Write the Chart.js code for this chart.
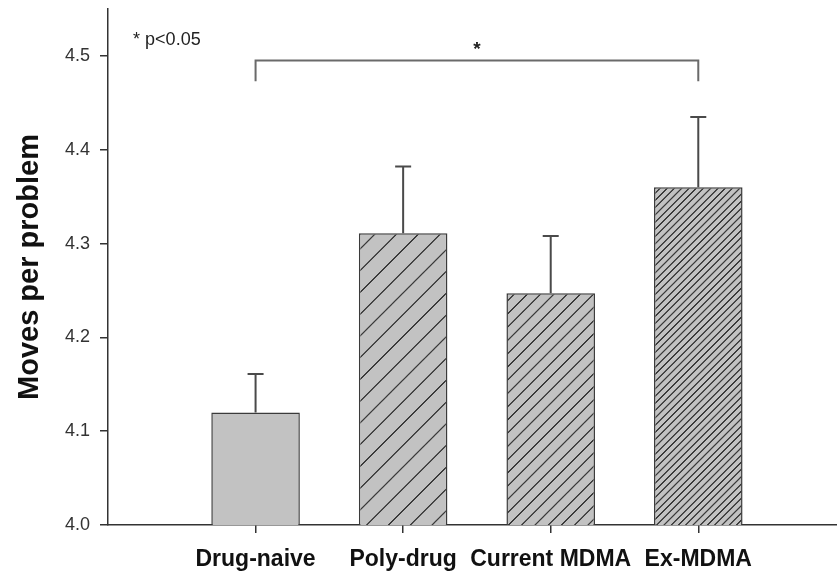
<!DOCTYPE html>
<html>
<head>
<meta charset="utf-8">
<script src="https://cdn.jsdelivr.net/npm/chart.js@4/dist/chart.umd.min.js"></script>
<style>
  body { margin: 0; background: #fff; }
  #wrap { width: 837px; height: 578px; }
</style>
</head>
<body>
<div id="wrap"><canvas id="grafik"></canvas></div>
<script>
const gruplar = ['Drug-naive', 'Poly-drug', 'Current MDMA', 'Ex-MDMA'];
const ortalamalar = [4.12, 4.311, 4.247, 4.36];
const hataUst = [4.161, 4.382, 4.308, 4.435];
const yTikler = [4.0, 4.1, 4.2, 4.3, 4.4, 4.5];
const taramaAraligi = [0, 21.7, 13.3, 7.2];   // 0 = düz dolgu
const parantezSeviye = 4.495;
const parantezAlt = 4.473;
const parantezGruplar = [0, 3];
const notMetni = '* p<0.05';

// çapraz tarama deseni
function taramaDeseni(ctx, s) {
  if (!s) return '#c2c2c2';
  const n = Math.round(s * 4);
  const c = document.createElement('canvas');
  c.width = n; c.height = n;
  const g = c.getContext('2d');
  g.fillStyle = '#c2c2c2';
  g.fillRect(0, 0, n, n);
  g.scale(4, 4);
  g.strokeStyle = '#3a3a3a';
  g.lineWidth = 1.3;
  const w = n / 4;
  [-w, 0, w].forEach(dx => {
    g.beginPath();
    g.moveTo(dx - 1, w + 1);
    g.lineTo(dx + w + 1, -1);
    g.stroke();
  });
  const p = ctx.createPattern(c, 'repeat');
  p.setTransform(new DOMMatrix().scale(0.25, 0.25));
  return p;
}

const ctx = document.getElementById('grafik').getContext('2d');
const dolgular = taramaAraligi.map(s => taramaDeseni(ctx, s));

const ekler = {
  id: 'ekler',
  afterDatasetsDraw(chart) {
    const x = chart.scales.x, y = chart.scales.y, c = chart.ctx;
    c.save();
    // hata çubukları
    c.strokeStyle = '#4a4a4a';
    c.lineWidth = 2;
    hataUst.forEach((h, i) => {
      const px = x.getPixelForValue(i + 1);
      const y0 = y.getPixelForValue(ortalamalar[i]);
      const y1 = y.getPixelForValue(h);
      c.beginPath();
      c.moveTo(px, y0); c.lineTo(px, y1);
      c.moveTo(px - 8, y1); c.lineTo(px + 8, y1);
      c.stroke();
    });
    // anlamlılık parantezi
    const xa = x.getPixelForValue(parantezGruplar[0] + 1);
    const xb = x.getPixelForValue(parantezGruplar[1] + 1);
    const ys = y.getPixelForValue(parantezSeviye);
    const ya = y.getPixelForValue(parantezAlt);
    c.strokeStyle = '#6a6a6a';
    c.lineWidth = 2;
    c.beginPath();
    c.moveTo(xa, ya); c.lineTo(xa, ys); c.lineTo(xb, ys); c.lineTo(xb, ya);
    c.stroke();
    c.fillStyle = '#222';
    c.font = 'bold 19px "Liberation Sans", Arial, sans-serif';
    c.textAlign = 'center';
    c.textBaseline = 'middle';
    c.fillText('*', (xa + xb) / 2, ys - 11);
    c.font = '18px "Liberation Sans", Arial, sans-serif';
    c.textAlign = 'left';
    c.fillText(notMetni, x.getPixelForValue(0.17), y.getPixelForValue(4.517));
    c.restore();
  }
};

new Chart(ctx, {
  type: 'bar',
  data: {
    datasets: [{
      data: ortalamalar.map((v, i) => ({ x: i + 1, y: v })),
      backgroundColor: dolgular,
      borderColor: '#3a3a3a',
      borderWidth: 1.5,
      borderSkipped: false,
      barPercentage: 0.6,
      categoryPercentage: 1.0
    }]
  },
  options: {
    responsive: true,
    maintainAspectRatio: false,
    animation: false,
    layout: { padding: { top: 9, right: 0, left: 0, bottom: 0 } },
    plugins: { legend: { display: false }, tooltip: { enabled: false } },
    scales: {
      x: {
        type: 'linear',
        min: 0,
        max: 4.94,
        offset: false,
        afterBuildTicks: s => { s.ticks = gruplar.map((g, i) => ({ value: i + 1 })); },
        afterFit: s => { s.height = 53; s.paddingLeft = 0; s.paddingRight = 0; },
        grid: { offset: false, drawOnChartArea: false, tickLength: 8, color: '#333', lineWidth: 1.5 },
        border: { color: '#333', width: 1.5 },
        ticks: {
          autoSkip: false,
          maxRotation: 0,
          padding: 13,
          color: '#111',
          font: { family: '"Liberation Sans", Arial, sans-serif', size: 23, weight: 'bold' },
          callback: v => gruplar[v - 1]
        }
      },
      y: {
        min: 4.0,
        max: 4.55,
        afterBuildTicks: s => { s.ticks = yTikler.map(v => ({ value: v })); },
        afterFit: s => { s.width = 108; s.paddingTop = 0; s.paddingBottom = 0; },
        grid: { drawOnChartArea: false, tickLength: 8, color: '#333', lineWidth: 1.5 },
        border: { color: '#333', width: 1.5 },
        ticks: {
          padding: 10,
          color: '#333',
          font: { family: '"Liberation Sans", Arial, sans-serif', size: 18 },
          callback: v => v.toFixed(1)
        },
        title: {
          display: true,
          text: 'Moves per problem',
          color: '#111',
          padding: { top: 13, bottom: 0 },
          font: { family: '"Liberation Sans", Arial, sans-serif', size: 29, weight: 'bold' }
        }
      }
    }
  },
  plugins: [ekler]
});
</script>
</body>
</html>
